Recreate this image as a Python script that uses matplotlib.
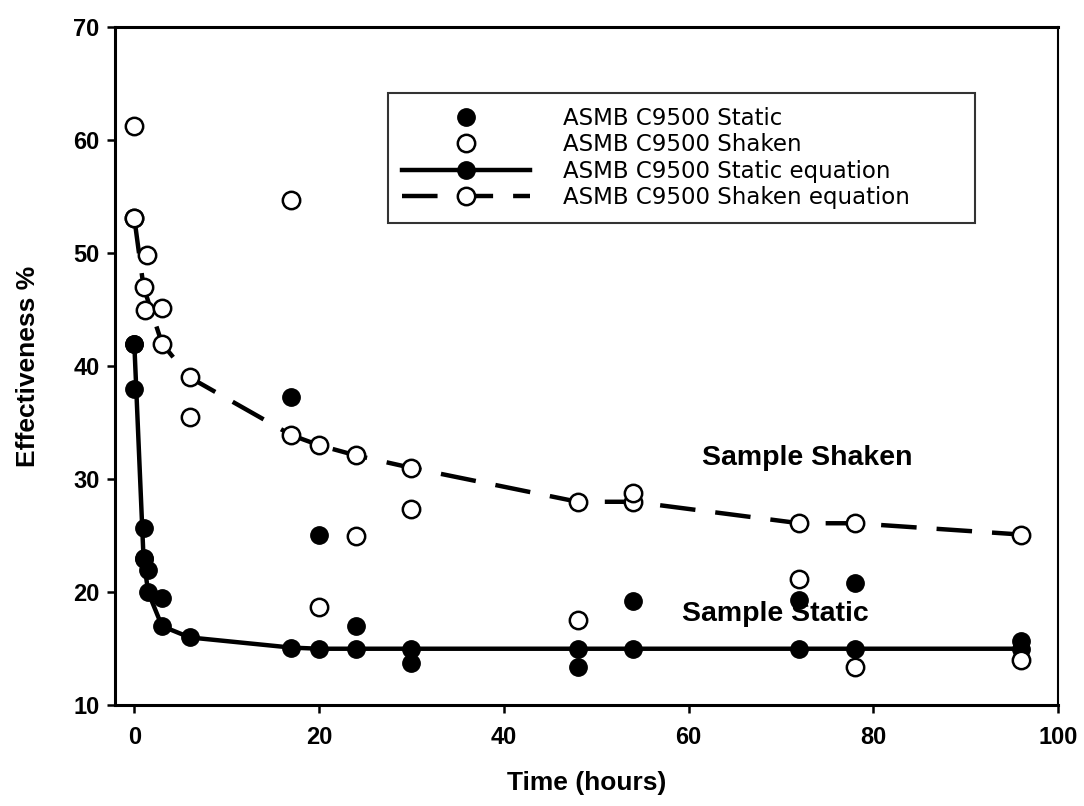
import matplotlib
matplotlib.use("Agg")
import matplotlib.pyplot as plt

# ── Data ─────────────────────────────────────────────────────────────────────

static_x = [0, 0, 1, 1, 1.5, 3, 17, 20, 24, 30, 48, 54, 72, 78, 96]
static_y = [42.0, 38.0, 25.7, 22.9, 22.0, 19.5, 37.3, 25.1, 17.0, 13.7, 13.4, 19.2, 19.3, 20.8, 15.7]

shaken_x = [0, 0, 1.4, 1.2, 3, 6, 17, 20, 24, 30, 48, 54, 72, 78, 96]
shaken_y = [61.2, 53.1, 49.8, 45.0, 45.1, 35.5, 54.7, 18.7, 25.0, 27.4, 17.5, 28.8, 21.2, 13.4, 14.0]

static_eq_x = [0, 1, 1.5, 3, 6, 17, 20, 24, 30, 48, 54, 72, 78, 96]
static_eq_y = [42.0, 23.0, 20.0, 17.0, 16.0, 15.1, 15.0, 15.0, 15.0, 15.0, 15.0, 15.0, 15.0, 15.0]

shaken_eq_x = [0, 1, 3, 6, 17, 20, 24, 30, 48, 54, 72, 78, 96]
shaken_eq_y = [53.1, 47.0, 42.0, 39.0, 33.9, 33.0, 32.1, 31.0, 28.0, 28.0, 26.1, 26.1, 25.1]

labels = [
    "ASMB C9500 Static",
    "ASMB C9500 Shaken",
    "ASMB C9500 Static equation",
    "ASMB C9500 Shaken equation",
]

# ── Plot ─────────────────────────────────────────────────────────────────────

plt.rcParams["font.family"] = ["Liberation Sans", "DejaVu Sans"]

fig = plt.figure(figsize=(10.84, 8.06), dpi=100)
ax = fig.add_axes([0.106, 0.125, 0.870, 0.8415])

ms = 12.5
ax.plot(static_eq_x, static_eq_y, color="black", lw=3.2, marker="o", ms=ms,
        mfc="black", mec="black", label=labels[2], zorder=3)
ax.plot(shaken_eq_x, shaken_eq_y, color="black", lw=3.2, dashes=(8, 4.5),
        marker="o", ms=ms, mfc="white", mec="black", mew=1.8,
        label=labels[3], zorder=3)
ax.plot(static_x, static_y, ls="none", marker="o", ms=ms, mfc="black",
        mec="black", label=labels[0], zorder=4)
ax.plot(shaken_x, shaken_y, ls="none", marker="o", ms=ms, mfc="white",
        mec="black", mew=1.8, label=labels[1], zorder=4)

ax.set_xlim(-2.1, 100)
ax.set_ylim(10, 70)
ax.set_xticks([0, 20, 40, 60, 80, 100])
ax.set_yticks([10, 20, 30, 40, 50, 60, 70])
ax.tick_params(direction="out", length=6, width=1.8, labelsize=17)
ax.tick_params(axis="x", pad=9)
ax.tick_params(axis="y", pad=5)
for lab in ax.get_xticklabels() + ax.get_yticklabels():
    lab.set_fontweight("bold")

for side in ["left", "bottom", "top"]:
    ax.spines[side].set_linewidth(2.2)
ax.spines["right"].set_linewidth(1.5)

ax.set_xlabel("Time (hours)", fontsize=19, fontweight="bold", labelpad=16)
ax.set_ylabel("Effectiveness %", fontsize=19, fontweight="bold", labelpad=24)

ax.text(61.5, 31.9, "Sample Shaken", fontsize=20.5, fontweight="bold",
        va="center", ha="left")
ax.text(59.3, 18.1, "Sample Static", fontsize=20.5, fontweight="bold",
        va="center", ha="left")

handles, labs = ax.get_legend_handles_labels()
order = [2, 3, 0, 1]
leg = ax.legend([handles[i] for i in order], [labs[i] for i in order],
                loc="lower left", bbox_to_anchor=(0.29, 0.711, 0.622, 0.23),
                mode="expand", prop={"family": "DejaVu Sans", "size": 16.5},
                frameon=True, fancybox=False, edgecolor="black",
                handlelength=5.6, handletextpad=1.4, borderpad=0.6,
                labelspacing=0.15, borderaxespad=0)
leg.get_frame().set_linewidth(1.5)

fig.savefig("out.png", dpi=100)
